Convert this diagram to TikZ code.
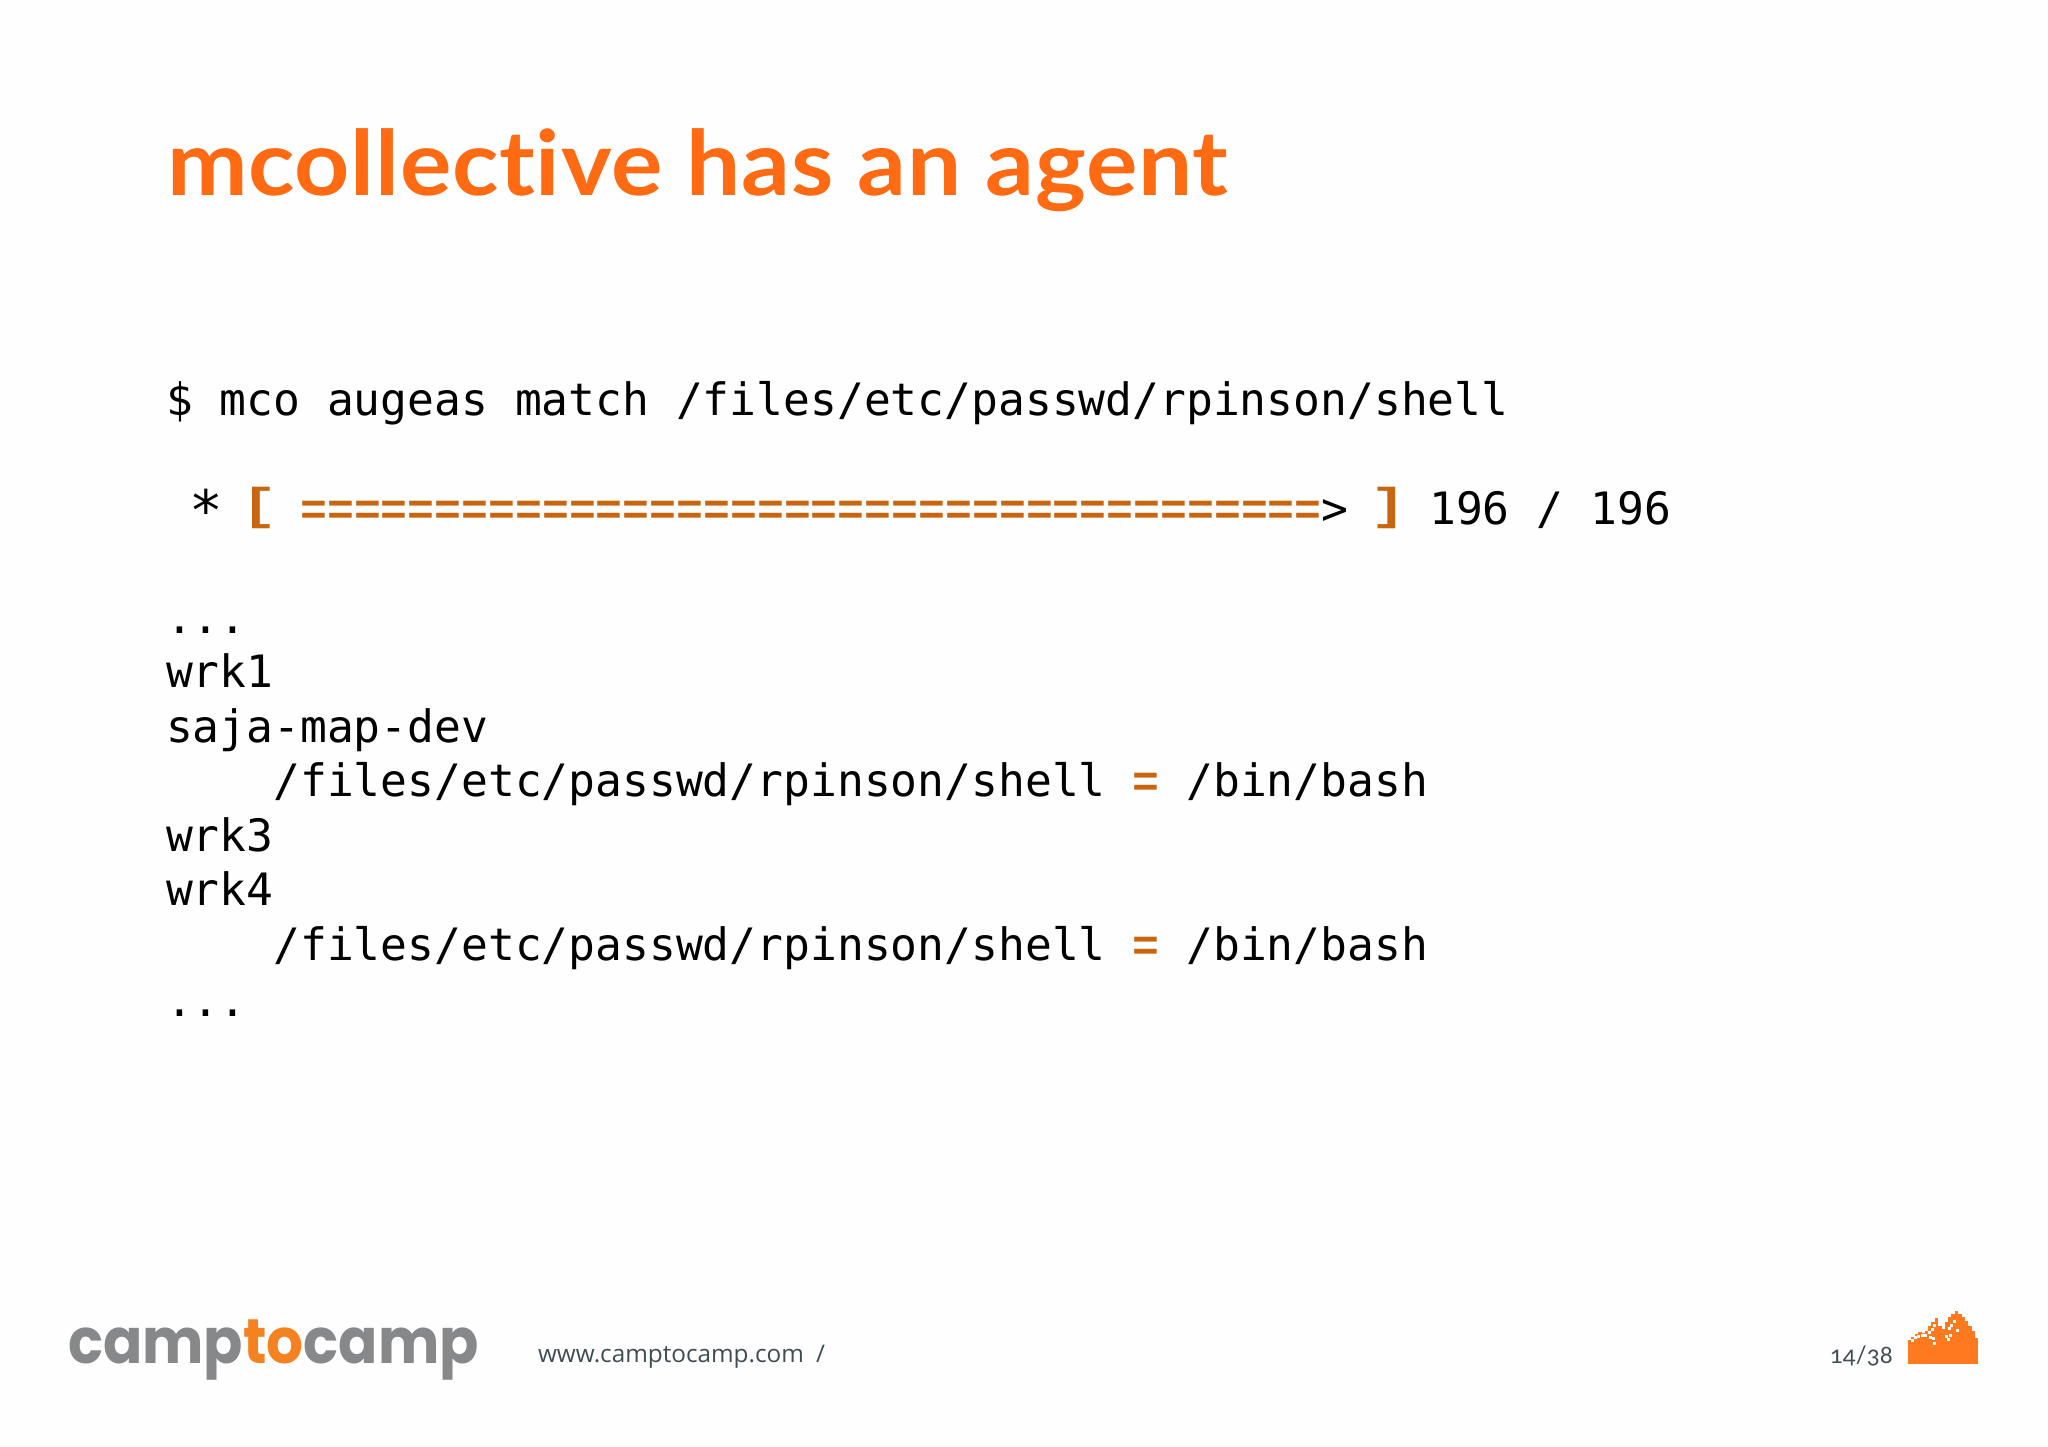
\documentclass[tikz,border=0pt]{standalone}
\usepackage{fontspec}
\setmainfont{Lato}
\newfontfamily\titlefont[FakeStretch=1.07,Ligatures=NoCommon,LetterSpace=0.8]{Lato}
\newfontfamily\pagefont[Numbers=OldStyle]{Lato}
\newfontfamily\codefont{DejaVu Sans Mono}
\newfontfamily\orfont{Liberation Mono}
\newfontfamily\logofont[FakeStretch=0.92]{Poppins}
\newfontfamily\urlfont{Open Sans}
\definecolor{titleor}{HTML}{FF6A13}
\definecolor{codeor}{HTML}{C9640F}
\definecolor{logogray}{HTML}{87888A}
\definecolor{logoor}{HTML}{F58220}
\definecolor{slate}{HTML}{3F4E52}
\definecolor{mtn}{HTML}{FF7A1F}
\definecolor{paper}{HTML}{FEFEFE}
\newcommand{\ob}[1]{\textcolor{codeor}{\orfont\bfseries\fontsize{44.8}{44.8}\selectfont #1}}
\newcommand{\obr}[1]{\makebox[0.602em]{\textcolor{codeor}{\orfont\bfseries\raisebox{0.1em}{\scalebox{1.35}[1.0]{#1}}}}}
\newcommand{\stargl}{\makebox[0.602em]{\raisebox{-0.14em}{\scalebox{1.25}{*}}}}
\tikzset{x=1pt,y=-1pt,
 every node/.style={inner sep=0pt,outer sep=0pt,anchor=base west},
 code/.style={font=\codefont\fontsize{44.6}{44.6}\selectfont,text=black}}
\begin{document}
\begin{tikzpicture}
\useasboundingbox (0,0) rectangle (2048,1447);
\fill[paper] (0,0) rectangle (2048,1447);
\node[font=\titlefont\fontsize{90}{90}\selectfont\bfseries,text=titleor] (title) at (167,196) {mcollective has an agent};
\node[code] (l1) at (166,415.3) {\$ mco augeas match /files/etc/passwd/rpinson/shell};
\node[code] (l2) at (166,524.2) {\phantom{x}\stargl{} \obr{[} \ob{======================================}> \obr{]} 196 / 196};
\node[code] (l3) at (166,633.1) {...};
\node[code] (l4) at (166,687.6) {wrk1};
\node[code] (l5) at (166,742.1) {saja-map-dev};
\node[code] (l6) at (166,796.5) {\phantom{xxxx}/files/etc/passwd/rpinson/shell \ob{=} /bin/bash};
\node[code] (l7) at (166,851) {wrk3};
\node[code] (l8) at (166,905.4) {wrk4};
\node[code] (l9) at (166,960.5) {\phantom{xxxx}/files/etc/passwd/rpinson/shell \ob{=} /bin/bash};
\node[code] (l10) at (166,1016) {...};
\node[font=\logofont\fontsize{63}{63}\selectfont\bfseries,text=logogray] (logo) at (68,1363) {camp\textcolor{logoor}{to}camp};
\node[font=\urlfont\fontsize{24.3}{24.3}\selectfont,text=slate] (url) at (538,1362) {www.camptocamp.com\hspace{0.5em}/};
\node[font=\pagefont\fontsize{24}{24}\selectfont,text=slate] (page) at (1830,1363) {14/38};
% mountain: columns of the pixel logo (zoom coordinates / 3)
\begin{scope}[shift={(1900,1305)},x=0.3333pt,y=-0.3333pt]
\fill[mtn] (24,178) rectangle (235,110);
\foreach \cx/\cy in {24/105,34/95,44/86,54/80,64/84,74/78,84/64,94/50,104/40,114/64,124/72,134/52,144/36,154/26,164/18,174/26,184/36,194/48,204/62,214/78,224/100}
  \fill[mtn] (\cx,\cy) rectangle (\cx+11,112);
\foreach \wx/\wy in {32/103,42/94,52/91,62/88,72/86,84/78,92/70,100/56,88/92,96/96,98/110,140/100,148/86,144/66,158/46,150/58,168/72,136/90}
  \fill[paper] (\wx,\wy) rectangle (\wx+9,\wy+9);
\end{scope}
\end{tikzpicture}
\end{document}
